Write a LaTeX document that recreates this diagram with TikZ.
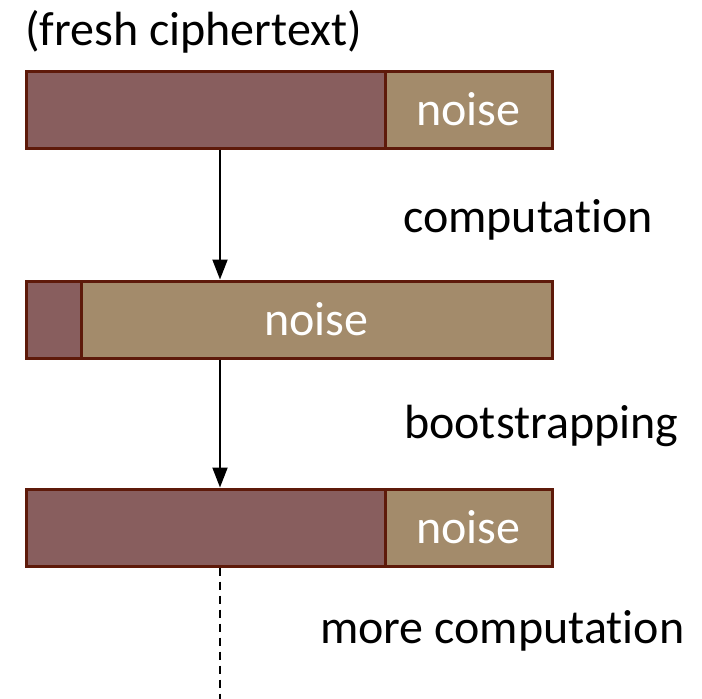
\documentclass[tikz,border=0pt]{standalone}
\usepackage{fontspec}
\setmainfont{Carlito}[Ligatures={NoCommon,NoRequired,NoContextual}]
\usetikzlibrary{arrows.meta}
\definecolor{plum}{HTML}{885E5E}
\definecolor{tan}{HTML}{A38B6B}
\definecolor{edge}{HTML}{5E1A0A}
\tikzset{
  part/.style={rectangle, draw=edge, line width=3pt, inner sep=0pt, minimum height=77pt},
  msg/.style={part, fill=plum},
  noisepart/.style={part, fill=tan},
  lbl/.style={anchor=base west, inner sep=0pt, font=\fontsize{48}{56}\selectfont, text=black},
  nlbl/.style={anchor=base, inner sep=0pt, font=\fontsize{48}{56}\selectfont, text=white},
  arr/.style={line width=2pt, -{Triangle[length=20pt,width=15pt]}},
  dsh/.style={line width=2pt, dash pattern=on 8pt off 6pt}
}
\begin{document}
\begin{tikzpicture}[x=1pt,y=-1pt]
\useasboundingbox (0,0) rectangle (702,699);
% box 1
\node[msg, minimum width=359] (m1) at (205.5,109.5) {};
\node[noisepart, minimum width=167] (n1) at (468.5,109.5) {};
% box 2
\node[msg, minimum width=55] (m2) at (53.5,319.5) {};
\node[noisepart, minimum width=471] (n2) at (316.5,319.5) {};
% box 3
\node[msg, minimum width=359] (m3) at (205.5,527.5) {};
\node[noisepart, minimum width=167] (n3) at (468.5,527.5) {};
% texts
\node[lbl] (t0) at (25,45) {(fresh ciphertext)};
\node[nlbl] (nt1) at (468.5,125) {noise};
\node[nlbl] (nt2) at (316.5,335) {noise};
\node[nlbl] (nt3) at (468.5,543) {noise};
\node[lbl] (c1) at (403,232) {computation};
\node[lbl] (c2) at (404,438) {bootstrapping};
\node[lbl] (c3) at (320,643) {more computation};
% connectors
\coordinate (ax) at (220,0);
\coordinate (dend) at (220,699);
\draw[arr] (m1.south -| ax) -- (n2.north -| ax);
\draw[arr] (n2.south -| ax) -- (m3.north -| ax);
\draw[dsh] (m3.south -| ax) -- (dend);
\end{tikzpicture}
\end{document}
